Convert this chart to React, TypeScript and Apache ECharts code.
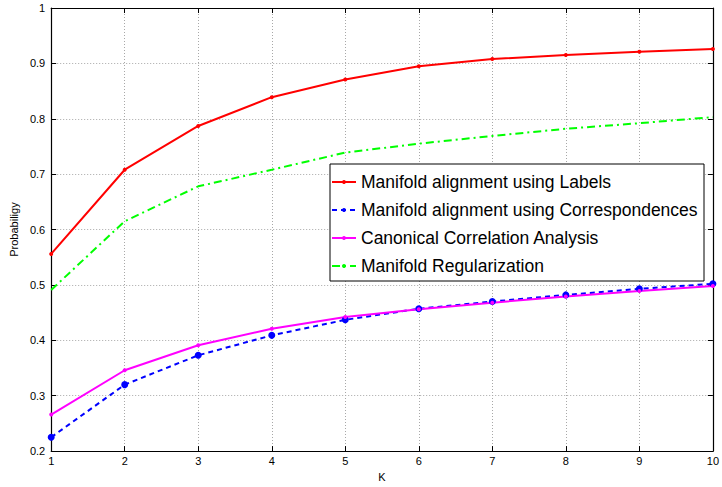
import React, { useEffect, useRef } from "react";
import * as echarts from "echarts";

const kValues = [1, 2, 3, 4, 5, 6, 7, 8, 9, 10];
const labelsSeries = [0.556, 0.708, 0.787, 0.839, 0.871, 0.895, 0.908, 0.915, 0.921, 0.926];
const correspondencesSeries = [0.225, 0.32, 0.373, 0.409, 0.437, 0.457, 0.47, 0.482, 0.493, 0.502];
const ccaSeries = [0.266, 0.346, 0.391, 0.421, 0.442, 0.456, 0.468, 0.479, 0.489, 0.498];
const regularizationSeries = [0.491, 0.615, 0.678, 0.708, 0.739, 0.755, 0.769, 0.782, 0.792, 0.803];
const seriesNames = [
  "Manifold alignment using Labels",
  "Manifold alignment using Correspondences",
  "Canonical Correlation Analysis",
  "Manifold Regularization",
];

const FONT = "Liberation Sans, Arial, Helvetica, sans-serif";

export default function App() {
  const ref = useRef<HTMLDivElement>(null);
  useEffect(() => {
    if (!ref.current) return;
    const chart = echarts.init(ref.current, null, { renderer: "svg" });
    const pairs = (arr: number[]) => kValues.map((k, i) => [k, arr[i]]);
    const axisCommon = {
      type: "value" as const,
      axisLine: { show: true, onZero: false, lineStyle: { color: "#000", width: 1.2 } },
      axisTick: { show: true, inside: true, length: 5, lineStyle: { color: "#000" } },
    };
    chart.setOption({
      animation: false,
      backgroundColor: "#fff",
      grid: { left: 46, top: 8, right: 6, bottom: 33, containLabel: false },
      xAxis: [
        {
          ...axisCommon,
          min: 1,
          max: 10,
          interval: 1,
          position: "bottom",
          name: "K",
          nameLocation: "middle",
          nameGap: 14,
          nameTextStyle: { fontFamily: FONT, fontSize: 11, color: "#000" },
          axisLabel: { fontFamily: FONT, fontSize: 11, color: "#000", margin: 4 },
          splitLine: { show: true, lineStyle: { color: "#a8a8a8", type: [1, 2], width: 1 } },
        },
        {
          ...axisCommon,
          min: 1,
          max: 10,
          interval: 1,
          position: "top",
          axisLabel: { show: false },
          splitLine: { show: false },
        },
      ],
      yAxis: [
        {
          ...axisCommon,
          min: 0.2,
          max: 1,
          interval: 0.1,
          position: "left",
          name: "Probabiligy",
          nameLocation: "middle",
          nameGap: 26,
          nameTextStyle: { fontFamily: FONT, fontSize: 11, color: "#000" },
          axisLabel: { fontFamily: FONT, fontSize: 11, color: "#000", margin: 6 },
          splitLine: { show: true, lineStyle: { color: "#a8a8a8", type: [1, 2], width: 1 } },
        },
        {
          ...axisCommon,
          min: 0.2,
          max: 1,
          interval: 0.1,
          position: "right",
          axisLabel: { show: false },
          splitLine: { show: false },
        },
      ],
      legend: {
        orient: "vertical",
        left: 331,
        top: 173,
        z: 20,
        itemWidth: 24,
        itemHeight: 5,
        itemGap: 10,
        padding: 0,
        textStyle: { fontFamily: FONT, fontSize: 17.5, lineHeight: 18, color: "#000" },
        data: seriesNames,
      },
      graphic: [
        {
          type: "rect",
          z: 10,
          shape: { x: 330, y: 164, width: 374, height: 117 },
          style: { fill: "#fff", stroke: "#000", lineWidth: 1 },
        },
      ],
      series: [
        {
          name: seriesNames[0],
          type: "line",
          data: pairs(labelsSeries),
          symbol: "circle",
          symbolSize: 4,
          color: "#ff0000",
          lineStyle: { color: "#ff0000", width: 2 },
          itemStyle: { color: "#ff0000" },
        },
        {
          name: seriesNames[1],
          type: "line",
          data: pairs(correspondencesSeries),
          symbol: "circle",
          symbolSize: 7,
          color: "#0000ff",
          lineStyle: { color: "#0000ff", width: 2, type: [5, 4] },
          itemStyle: { color: "#0000ff" },
        },
        {
          name: seriesNames[2],
          type: "line",
          data: pairs(ccaSeries),
          symbol: "circle",
          symbolSize: 4,
          color: "#ff00ff",
          lineStyle: { color: "#ff00ff", width: 2 },
          itemStyle: { color: "#ff00ff" },
        },
        {
          name: seriesNames[3],
          type: "line",
          data: pairs(regularizationSeries),
          symbol: "none",
          showSymbol: false,
          color: "#00ff00",
          lineStyle: { color: "#00ff00", width: 2, type: [8, 4, 2, 4] },
          itemStyle: { color: "#00ff00" },
        },
      ],
    });
    return () => chart.dispose();
  }, []);
  return <div ref={ref} style={{ width: 722, height: 487, position: "absolute", left: 0, top: 0 }} />;
}
